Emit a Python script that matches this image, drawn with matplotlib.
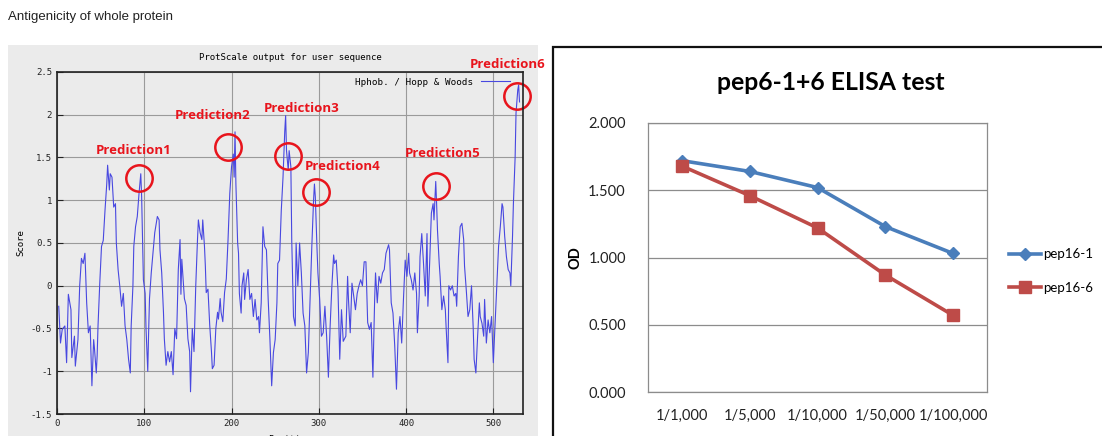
import matplotlib.pyplot as plt
from matplotlib.patches import Rectangle

# --- left chart: ProtScale Hopp & Woods profile ---
positions = [2, 4, 6, 9, 11, 13, 16, 17, 20, 21, 24, 26, 28, 30, 32, 34, 36, 38, 40, 42,
             43, 45, 46, 47, 49, 51, 53, 55, 57, 58, 60, 61, 63, 65, 67, 68, 70, 72, 74, 76,
             78, 80, 82, 84, 85, 87, 88, 90, 92, 94, 96, 97, 98, 99, 101, 102, 104, 105, 106, 108,
             110, 112, 115, 117, 118, 120, 122, 123, 125, 127, 129, 131, 133, 135, 137, 139, 141, 142, 143, 146,
             148, 150, 152, 153, 155, 157, 159, 161, 162, 164, 166, 167, 169, 170, 171, 173, 175, 177, 178, 180,
             182, 184, 185, 187, 188, 190, 192, 194, 196, 198, 200, 202, 203, 204, 205, 207, 208, 209, 211, 212,
             214, 215, 217, 219, 221, 223, 225, 227, 229, 231, 232, 234, 236, 238, 240, 242, 244, 246, 248, 250,
             252, 253, 255, 257, 259, 261, 262, 263, 265, 266, 268, 269, 271, 273, 274, 276, 278, 280, 282, 284,
             286, 288, 290, 292, 294, 295, 296, 298, 299, 301, 303, 305, 307, 309, 311, 313, 315, 317, 318, 320,
             322, 324, 326, 328, 331, 333, 334, 336, 338, 340, 342, 344, 346, 348, 350, 352, 354, 356, 358, 360,
             362, 364, 365, 367, 369, 371, 373, 375, 377, 380, 381, 383, 385, 387, 389, 391, 393, 395, 397, 399,
             401, 403, 404, 406, 408, 410, 412, 413, 415, 416, 418, 420, 422, 424, 425, 427, 429, 431, 432, 434,
             435, 436, 438, 439, 441, 443, 445, 446, 448, 449, 451, 453, 455, 457, 458, 460, 462, 464, 466, 467,
             469, 471, 473, 475, 477, 478, 480, 482, 484, 485, 487, 489, 490, 492, 494, 496, 498, 500, 502, 504,
             506, 508, 510, 511, 513, 515, 517, 519, 520, 522, 523, 525, 526, 528, 529, 530]
scores = [-0.24, -0.67, -0.51, -0.47, -0.90, -0.10, -0.28, -0.84, -0.59, -0.94, -0.63, 0.00, 0.32, 0.26, 0.38, -0.20, -0.55, -0.47, -1.17, -0.63,
          -0.74, -1.02, -0.82, -0.47, 0.03, 0.46, 0.53, 0.88, 1.19, 1.41, 1.12, 1.31, 1.27, 0.92, 0.96, 0.50, 0.19, -0.01, -0.24, -0.09,
          -0.47, -0.63, -0.86, -1.02, -0.47, 0.00, 0.46, 0.69, 0.81, 1.08, 1.31, 1.04, 0.53, 0.07, -0.09, -0.50, -1.00, -0.54, -0.15, 0.15,
          0.39, 0.62, 0.81, 0.77, 0.42, 0.15, -0.31, -0.62, -0.93, -0.77, -0.89, -0.77, -1.04, -0.50, -0.62, 0.19, 0.54, -0.10, 0.31, -0.15,
          -0.23, -0.62, -0.77, -1.24, -0.50, -0.77, 0.00, 0.54, 0.77, 0.62, 0.54, 0.77, 0.46, 0.23, -0.08, -0.04, -0.46, -0.77, -0.97, -0.93,
          -0.50, -0.31, -0.39, -0.15, -0.31, -0.42, -0.08, 0.08, 0.54, 1.08, 1.39, 1.54, 1.27, 1.80, 1.19, 0.50, 0.38, -0.09, -0.32, 0.00,
          0.15, -0.16, 0.07, 0.19, -0.16, -0.09, -0.36, -0.16, -0.40, -0.36, -0.55, -0.20, 0.69, 0.46, 0.42, -0.16, -0.63, -1.17, -0.78, -0.63,
          -0.20, 0.26, 0.30, 0.88, 1.27, 1.81, 1.99, 1.58, 1.35, 1.58, 1.39, 0.53, -0.36, -0.47, 0.50, 0.00, 0.50, 0.15, -0.32, -0.47,
          -1.02, -0.78, -0.16, 0.46, 1.00, 1.19, 1.04, 0.42, 0.15, -0.16, -0.59, -0.55, -0.24, -0.60, -1.07, -0.47, 0.00, 0.36, 0.26, 0.30,
          -0.05, -0.86, -0.28, -0.65, -0.59, 0.11, -0.16, -0.55, 0.03, -0.12, -0.28, -0.09, 0.00, 0.07, 0.00, 0.28, 0.28, -0.43, -0.51, -0.43,
          -1.07, -0.16, 0.15, -0.20, 0.11, 0.03, 0.15, 0.19, 0.38, 0.48, 0.42, -0.20, -0.32, -0.70, -1.21, -0.55, -0.36, -0.67, -0.16, 0.30,
          0.11, 0.38, 0.15, 0.07, -0.05, 0.15, -0.09, -0.55, -0.12, 0.34, 0.61, 0.26, -0.12, 0.61, -0.24, 0.26, 0.85, 0.96, 0.77, 1.22,
          0.96, 0.65, 0.26, 0.11, -0.28, -0.12, -0.28, -0.51, -0.90, 0.00, -0.05, 0.00, -0.12, -0.09, -0.24, 0.34, 0.69, 0.73, 0.54, 0.23,
          -0.05, -0.36, -0.28, 0.00, -0.51, -0.86, -1.02, -0.59, -0.20, -0.36, -0.44, -0.59, -0.16, -0.67, -0.40, -0.55, -0.36, -0.90, -0.44, 0.00,
          0.46, 0.69, 0.96, 0.92, 0.58, 0.34, 0.19, 0.15, 0.00, 0.58, 0.96, 1.51, 2.02, 2.29, 2.35, 2.15]

pred_labels = ['Prediction1', 'Prediction2', 'Prediction3', 'Prediction4', 'Prediction5', 'Prediction6']
pred_circle_pos = [93.7, 195.8, 264.6, 296.7, 434.3, 527.2]
pred_circle_val = [1.26, 1.62, 1.52, 1.10, 1.17, 2.22]
pred_text_pos = [87.5, 178.0, 280.0, 327.0, 441.5, 516.0]
pred_text_val = [1.58, 1.99, 2.07, 1.40, 1.55, 2.59]

# --- right chart: ELISA test ---
dilutions = ['1/1,000', '1/5,000', '1/10,000', '1/50,000', '1/100,000']
pep16_1 = [1.72, 1.64, 1.52, 1.23, 1.03]
pep16_6 = [1.68, 1.46, 1.22, 0.87, 0.57]

W, H = 1102, 436
fig = plt.figure(figsize=(W / 100, H / 100), dpi=100)
fig.patch.set_facecolor('white')

def fx(px):
    return px / W

def fy(py):
    return 1 - py / H

mono = 'DejaVu Sans Mono'

# page heading
fig.text(fx(8), fy(17), 'Antigenicity of whole protein', family='Liberation Sans',
         fontsize=9.5, va='center', ha='left', color='#222222')

# gray panel behind ProtScale output
fig.patches.append(Rectangle((fx(8), 0), fx(530), fy(45), transform=fig.transFigure,
                             facecolor='#ebebeb', edgecolor='none', zorder=-5))

# white box for the ELISA chart
fig.patches.append(Rectangle((fx(553), -0.01), fx(560), fy(47) + 0.01, transform=fig.transFigure,
                             facecolor='white', edgecolor='#111111', lw=1.6, zorder=-5))

ax1 = fig.add_axes([fx(57), fy(414), fx(466), fy(72) - fy(414)])
ax1.set_facecolor('#ebebeb')
ax1.plot(positions, scores, color='#4848e0', lw=0.8, label='Hphob. / Hopp & Woods')
ax1.set_xlim(0, 534)
ax1.set_ylim(-1.5, 2.5)
ax1.set_xticks([0, 100, 200, 300, 400, 500])
ax1.set_yticks([-1.5, -1, -0.5, 0, 0.5, 1, 1.5, 2, 2.5])
ax1.set_yticklabels(['-1.5', '-1', '-0.5', '0', '0.5', '1', '1.5', '2', '2.5'])
ax1.grid(True, color='#9a9a9a', lw=0.8)
ax1.set_axisbelow(True)
ax1.tick_params(direction='in', length=4, labelsize=6.5, colors='#222222')
for lab in ax1.get_xticklabels() + ax1.get_yticklabels():
    lab.set_family(mono)
for sp in ax1.spines.values():
    sp.set_linewidth(1.2)
    sp.set_color('#222222')
ax1.set_title('ProtScale output for user sequence', family=mono, fontsize=6.5, pad=9)
ax1.set_ylabel('Score', family=mono, fontsize=6.5, labelpad=4)
ax1.set_xlabel('Position', family=mono, fontsize=6.5, labelpad=5)
ax1.legend(loc='upper right', markerfirst=False, frameon=False, prop={'family': mono, 'size': 6.7},
           handlelength=3.2, borderaxespad=0.2, bbox_to_anchor=(0.985, 1.0))

# prediction annotations
ax1.plot(pred_circle_pos, pred_circle_val, 'o', ms=19, mfc='none', mec='#e8141c', mew=1.8,
         clip_on=False)
for lab, xp, yp in zip(pred_labels, pred_text_pos, pred_text_val):
    ax1.text(xp, yp, lab, color='#e8141c', fontsize=9.5, fontweight='bold', family='Open Sans',
             ha='center', va='center', clip_on=False)

ax2 = fig.add_axes([fx(648), fy(392), fx(339), fy(123) - fy(392)])
xs = list(range(len(dilutions)))
ax2.plot(xs, pep16_1, color='#4a7ebb', lw=2.6, marker='D', ms=6.5, label='pep16-1')
ax2.plot(xs, pep16_6, color='#be4b48', lw=2.6, marker='s', ms=8, label='pep16-6')
ax2.set_xlim(-0.5, 4.5)
ax2.set_ylim(0, 2.0)
ax2.set_yticks([0, 0.5, 1.0, 1.5, 2.0])
ax2.set_yticklabels(['%.3f' % v for v in [0, 0.5, 1.0, 1.5, 2.0]])
ax2.set_xticks(xs)
ax2.set_xticklabels(dilutions)
ax2.yaxis.grid(True, color='#8c8c8c', lw=0.9)
ax2.set_axisbelow(True)
ax2.tick_params(length=0, labelsize=10.5, pad=16, colors='#222222')
ax2.tick_params(axis='x', pad=12)
for lab in ax2.get_xticklabels() + ax2.get_yticklabels():
    lab.set_family('Lato')
for sp in ax2.spines.values():
    sp.set_color('#8c8c8c')
    sp.set_linewidth(0.9)
ax2.set_ylabel('OD', family='Lato', fontweight='bold', fontsize=10.5, labelpad=4)
fig.text(fx(831), fy(82), 'pep6-1+6 ELISA test', family='Lato', fontweight='bold',
         fontsize=17.8, ha='center', va='center')
ax2.legend(loc='center left', bbox_to_anchor=(1.03, 0.45), frameon=False,
           prop={'family': 'Lato', 'size': 9.5}, handlelength=2.4, handletextpad=0.15,
           labelspacing=1.6)

fig.savefig('out.png', dpi=100)
